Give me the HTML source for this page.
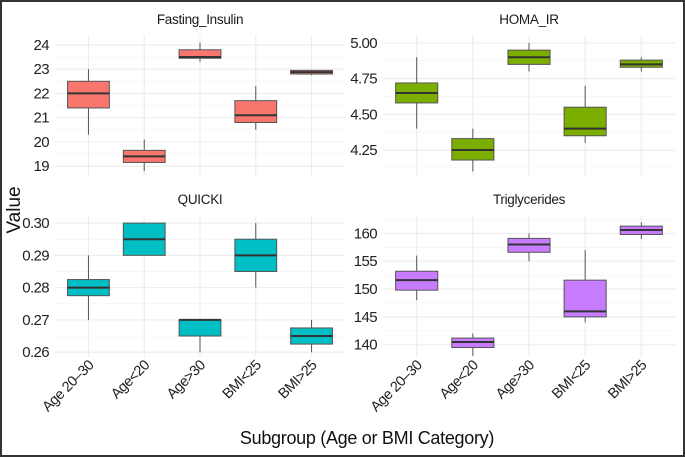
<!DOCTYPE html>
<html><head><meta charset="utf-8">
<style>
html,body{margin:0;padding:0;background:#fff;}
svg{display:block;font-family:"Liberation Sans Narrow","Liberation Sans",sans-serif;}
</style></head>
<body>
<svg id="chart" width="685" height="457" viewBox="0 0 685 457" xmlns="http://www.w3.org/2000/svg">
<rect x="1" y="1" width="683" height="455" fill="#fff" stroke="#333" stroke-width="2"/>
<text x="20" y="210" transform="rotate(-90 20 210)" text-anchor="middle" font-size="19" fill="#111">Value</text>
<text x="367" y="444" text-anchor="middle" font-size="18" letter-spacing="-0.3" fill="#111">Subgroup (Age or BMI Category)</text>
</svg>
<script>
const categories = ["Age 20\u201330","Age<20","Age>30","BMI<25","BMI>25"];
const panelTitles = ["Fasting_Insulin","HOMA_IR","QUICKI","Triglycerides"];
const panelColors = ["#F8766D","#7CAE00","#00BFC4","#C77CFF"];
// each: [whiskerLow, q1, median, q3, whiskerHigh] per category
const insulinStats = [[20.3,21.4,22,22.5,23],[18.8,19.15,19.4,19.65,20.1],[23.3,23.45,23.5,23.8,24.1],[20.5,20.8,21.1,21.7,22.3],[22.75,22.8,22.88,22.95,22.97]];
const homaStats = [[4.4,4.58,4.65,4.72,4.9],[4.1,4.18,4.25,4.33,4.4],[4.8,4.85,4.9,4.95,5.0],[4.3,4.35,4.4,4.55,4.7],[4.8,4.83,4.85,4.88,4.9]];
const quickiStats = [[0.27,0.2775,0.28,0.2825,0.29],[0.29,0.29,0.295,0.30,0.30],[0.26,0.265,0.27,0.27,0.27],[0.28,0.285,0.29,0.295,0.30],[0.26,0.2625,0.265,0.2675,0.27]];
const trigStats = [[148,149.8,151.6,153.2,156],[138,139.5,140.5,141.2,142],[155,156.6,158,159.1,160],[144,145,146,151.6,157],[159,159.8,160.6,161.3,162]];
const insulinTicks = [19,20,21,22,23,24];
const homaTicks = [4.25,4.5,4.75,5.0];
const quickiTicks = [0.26,0.27,0.28,0.29,0.30];
const trigTicks = [140,145,150,155,160];
const insulinDomain = [18.55,24.41];
const homaDomain = [4.061,5.056];
const quickiDomain = [0.2585,0.3025];
const trigDomain = [137.8,163.3];

const NS="http://www.w3.org/2000/svg";
const svg=document.getElementById('chart');
function mk(tag,attrs,parent){const e=document.createElementNS(NS,tag);for(const k in attrs)e.setAttribute(k,attrs[k]);(parent||svg).appendChild(e);return e;}

const panels=[
 {x0:55,x1:345,y0:35,y1:177,title:panelTitles[0],stats:insulinStats,ticks:insulinTicks,dom:insulinDomain,fmt:v=>String(v)},
 {x0:383,x1:675,y0:35,y1:177,title:panelTitles[1],stats:homaStats,ticks:homaTicks,dom:homaDomain,fmt:v=>v.toFixed(2)},
 {x0:55,x1:345,y0:215,y1:357,title:panelTitles[2],stats:quickiStats,ticks:quickiTicks,dom:quickiDomain,fmt:v=>v.toFixed(2)},
 {x0:383,x1:675,y0:215,y1:357,title:panelTitles[3],stats:trigStats,ticks:trigTicks,dom:trigDomain,fmt:v=>String(v)}
];

panels.forEach((p,pi)=>{
 const g=mk('g',{});
 
 
 const ys=v=>p.y1-(v-p.dom[0])/(p.dom[1]-p.dom[0])*(p.y1-p.y0);
 const step=(p.x1-p.x0)/5.2;
 const xs=i=>p.x0+step*(0.6+i);
 for(let i=0;i<p.ticks.length-1;i++){
   const mv=(p.ticks[i]+p.ticks[i+1])/2;
   mk('line',{x1:p.x0,x2:p.x1,y1:ys(mv),y2:ys(mv),stroke:'#f2f2f2','stroke-width':0.6},g);
 }
 const dt=p.ticks[1]-p.ticks[0];
 [p.ticks[0]-dt/2,p.ticks[p.ticks.length-1]+dt/2].forEach(mv=>{
   const y=ys(mv); if(y>=p.y0&&y<=p.y1) mk('line',{x1:p.x0,x2:p.x1,y1:y,y2:y,stroke:'#f2f2f2','stroke-width':0.6},g);
 });
 p.ticks.forEach(t=>{
   const l=mk('line',{x1:p.x0,x2:p.x1,y1:ys(t),y2:ys(t),stroke:'#ebebeb','stroke-width':1.1},g);
    
   const tx=mk('text',{x:p.x0-6,y:ys(t)+5,'text-anchor':'end','font-size':15,'letter-spacing':-0.6,fill:'#222'},g);
   tx.textContent=p.fmt(t);
    
 });
 categories.forEach((c,i)=>{
   mk('line',{x1:xs(i),x2:xs(i),y1:p.y0,y2:p.y1,stroke:'#ebebeb','stroke-width':1.1},g);
 });
 const tt=mk('text',{x:(p.x0+p.x1)/2,y:p.y0-11,'text-anchor':'middle','font-size':13.5,'letter-spacing':-0.3,fill:'#1a1a1a'},g);
 tt.textContent=p.title;
  
 const bw=step*0.75;
 p.stats.forEach((s,i)=>{
   const bx=mk('g',{},g);
   
   
   const cx=xs(i);
   mk('line',{x1:cx,x2:cx,y1:ys(s[0]),y2:ys(s[1]),stroke:'#555','stroke-width':1},bx);
   mk('line',{x1:cx,x2:cx,y1:ys(s[3]),y2:ys(s[4]),stroke:'#555','stroke-width':1},bx);
   mk('rect',{x:cx-bw/2,y:ys(s[3]),width:bw,height:Math.max(0.5,ys(s[1])-ys(s[3])),fill:panelColors[pi],stroke:'#555','stroke-width':1},bx);
   mk('line',{x1:cx-bw/2,x2:cx+bw/2,y1:ys(s[2]),y2:ys(s[2]),stroke:'#333','stroke-width':2},bx);
 });
 if(pi>=2){
   categories.forEach((c,i)=>{
     const x=xs(i)+6,y=p.y1+9;
     const tx=mk('text',{x:x,y:y,'text-anchor':'end','font-size':14.5,'letter-spacing':-0.5,fill:'#222',transform:'rotate(-45 '+x+' '+y+')'},g);
     tx.textContent=c;
      
   });
 }
});
function c2n(c){return c.toLowerCase().replace(/</g,'lt').replace(/>/g,'gt').replace(/[^a-z0-9]+/g,'-');}
</script>
</body></html>
